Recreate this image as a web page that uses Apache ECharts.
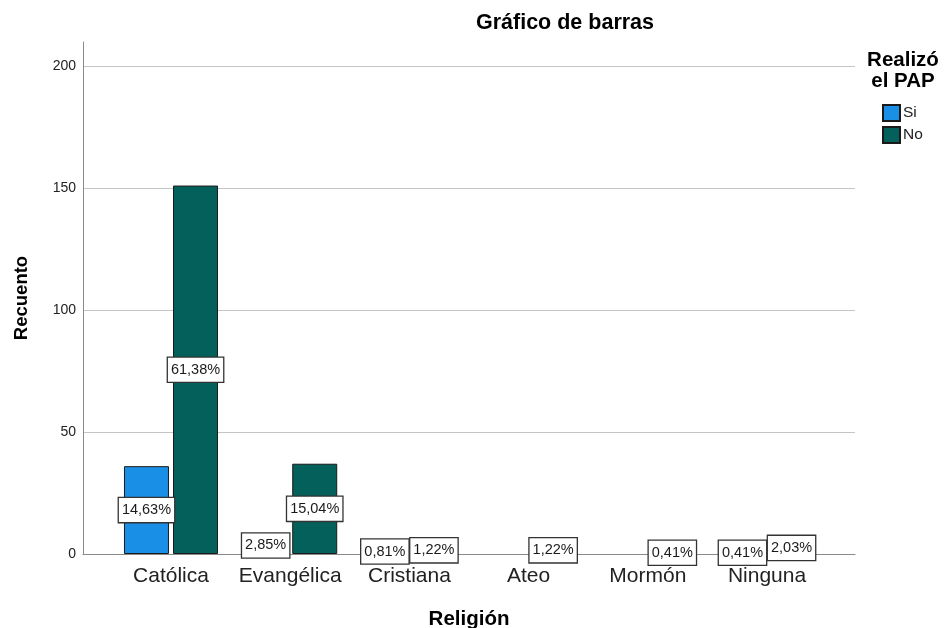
<!DOCTYPE html>
<html>
<head>
<meta charset="utf-8">
<script src="https://cdn.jsdelivr.net/npm/echarts@6/dist/echarts.min.js"></script>
<style>html,body{margin:0;padding:0;background:#fff;}#c{width:944px;height:628px;}</style>
</head>
<body>
<div id="c"></div>
<script>
const categories = ['Católica', 'Evangélica', 'Cristiana', 'Ateo', 'Mormón', 'Ninguna'];
const seriesNames = ['Si', 'No'];
const countsSi = [36, 7, 2, null, null, 1];
const countsNo = [151, 37, 3, 3, 1, 5];
const yTicks = [0, 50, 100, 150, 200];

const total = countsSi.concat(countsNo).reduce((s, v) => s + (v || 0), 0);
const FONT = '"Liberation Sans", Arial, sans-serif';
const pctFmt = p => (p.value / total * 100).toFixed(2).replace('.', ',') + '%';

const chart = echarts.init(document.getElementById('c'), null, {renderer: 'canvas'});
const labelStyle = {
  show: true, position: 'inside', formatter: pctFmt,
  backgroundColor: '#fff', borderColor: '#333', borderWidth: 1.3,
  padding: [5, 3, 4, 3], fontSize: 14.5, color: '#1a1a1a', fontFamily: FONT
};
chart.setOption({
  animation: false,
  backgroundColor: '#fff',
  title: [
    {text: 'Gráfico de barras', left: 565, top: 12, textAlign: 'center', padding: 0,
     textStyle: {fontFamily: FONT, fontSize: 21.5, fontWeight: 'bold', color: '#000'}},
    {text: 'Realizó\nel PAP', left: 903, top: 50, textAlign: 'center', padding: 0,
     textStyle: {fontFamily: FONT, fontSize: 20.5, fontWeight: 'bold', color: '#000', lineHeight: 21}}
  ],
  legend: {
    data: seriesNames, orient: 'vertical', left: 882, top: 104, padding: 0,
    itemWidth: 17, itemHeight: 16, itemGap: 4, icon: 'rect',
    textStyle: {fontFamily: FONT, fontSize: 15.5, color: '#222', padding: [0, 0, 0, -2]}
  },
  grid: [
    {left: 83, right: 89, top: 66, bottom: 74, outerBoundsMode: 'none', containLabel: false},
    {left: 83, right: 89, top: 42, bottom: 74, outerBoundsMode: 'none', containLabel: false},
    {left: 111.4, right: 117.4, top: 66, bottom: 74, outerBoundsMode: 'none', containLabel: false}
  ],
  xAxis: [
    {gridIndex: 0, type: 'value', min: 0, max: 1,
     axisLine: {show: true, lineStyle: {color: '#8a8a8a', width: 1}},
     axisTick: {show: false}, axisLabel: {show: false}, splitLine: {show: false}},
    {gridIndex: 1, type: 'value', min: 0, max: 1, show: false},
    {gridIndex: 2, type: 'category', data: categories,
     axisLine: {show: false}, axisTick: {show: false},
     axisLabel: {fontFamily: FONT, fontSize: 21, color: '#222', margin: 12, interval: 0, hideOverlap: false},
     name: 'Religión', nameLocation: 'middle', nameGap: 55,
     nameTextStyle: {fontFamily: FONT, fontSize: 20.5, fontWeight: 'bold', color: '#000'}}
  ],
  yAxis: [
    {gridIndex: 0, type: 'value', min: yTicks[0], max: yTicks[yTicks.length - 1], interval: 50,
     axisLine: {show: false}, axisTick: {show: false},
     axisLabel: {fontFamily: FONT, fontSize: 14, color: '#222', margin: 7},
     splitLine: {show: true, lineStyle: {color: '#c4c4c4', width: 1}}},
    {gridIndex: 1, type: 'value', min: 0, max: 1,
     axisLine: {show: true, onZero: false, lineStyle: {color: '#8a8a8a', width: 1}},
     axisTick: {show: false}, axisLabel: {show: false}, splitLine: {show: false},
     name: 'Recuento', nameLocation: 'middle', nameRotate: 90, nameGap: 52,
     nameTextStyle: {fontFamily: FONT, fontSize: 18.5, fontWeight: 'bold', color: '#000'}},
    {gridIndex: 2, type: 'value', min: yTicks[0], max: yTicks[yTicks.length - 1], show: false}
  ],
  series: [
    {name: seriesNames[0], type: 'bar', xAxisIndex: 2, yAxisIndex: 2, data: countsSi,
     barWidth: 45, barGap: '9%',
     itemStyle: {color: '#1a8fe6', borderColor: '#1a1a1a', borderWidth: 1},
     label: labelStyle},
    {name: seriesNames[1], type: 'bar', xAxisIndex: 2, yAxisIndex: 2, data: countsNo,
     barWidth: 45, barGap: '9%',
     itemStyle: {color: '#03605b', borderColor: '#1a1a1a', borderWidth: 1},
     label: labelStyle}
  ]
});
</script>
</body>
</html>
